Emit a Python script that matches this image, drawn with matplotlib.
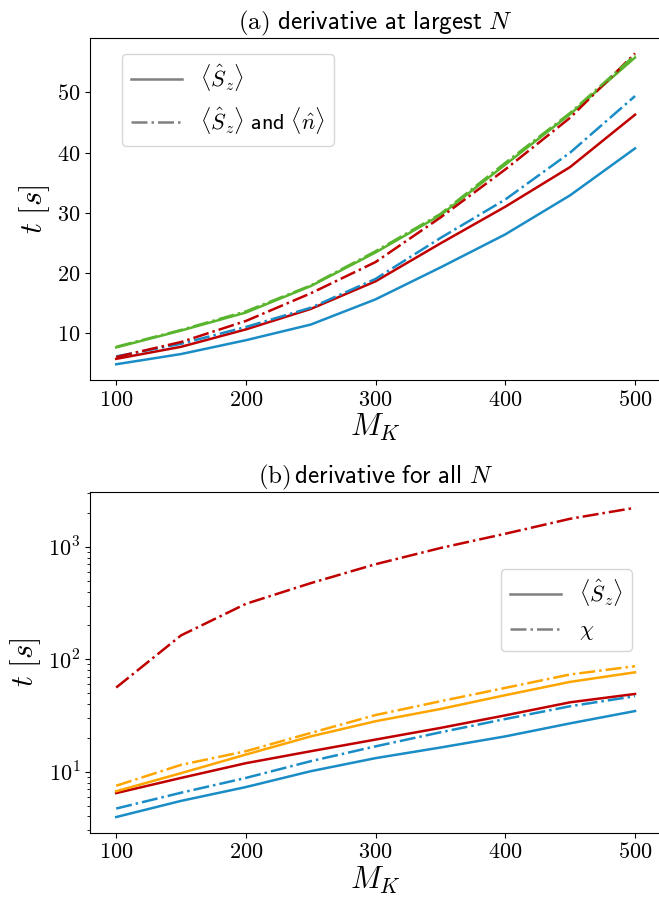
import numpy as np
import matplotlib
matplotlib.use("Agg")
import matplotlib.pyplot as plt
from matplotlib.lines import Line2D

plt.rcParams['mathtext.fontset'] = 'cm'

M_K = [100, 150, 200, 250, 300, 350, 400, 450, 500]

# (a) derivative at largest N
a_blue_sz = [4.8, 6.5, 8.8, 11.4, 15.6, 20.9, 26.4, 32.9, 40.7]
a_red_sz = [5.7, 7.7, 10.6, 14.0, 18.6, 24.9, 31.0, 37.6, 46.3]
a_green_sz = [7.6, 10.4, 13.4, 17.8, 23.4, 29.6, 38.0, 46.4, 55.8]
a_blue_szn = [6.1, 8.2, 11.0, 14.2, 19.0, 25.8, 32.2, 40.0, 49.4]
a_red_szn = [6.0, 8.5, 12.0, 16.6, 21.8, 29.2, 37.2, 45.8, 56.5]
a_green_szn = [7.7, 10.5, 13.6, 17.9, 23.6, 29.8, 38.3, 46.6, 56.2]

# (b) derivative for all N
b_blue_sz = [3.95, 5.5, 7.3, 10.1, 13.2, 16.4, 20.6, 26.9, 34.6]
b_red_sz = [6.45, 8.8, 11.9, 15.2, 19.3, 24.5, 31.7, 41.4, 49.1]
b_orange_sz = [6.7, 9.7, 14.2, 20.6, 28.1, 36.1, 47.9, 62.9, 76.5]
b_blue_chi = [4.7, 6.5, 8.8, 12.4, 16.8, 22.4, 29.4, 38.2, 46.9]
b_orange_chi = [7.5, 11.5, 15.2, 22.1, 31.9, 42.3, 55.6, 73.2, 86.7]
b_red_chi = [56, 163, 311, 475, 700, 975, 1306, 1775, 2223]

blue = '#1a8cc6'
red = '#c00000'
green = '#5ab52e'
orange = '#ffa500'
lw = 1.8

fig = plt.figure(figsize=(6.59, 9), dpi=100)
ax1 = fig.add_axes([0.137, 0.578, 0.866, 0.380])
ax2 = fig.add_axes([0.137, 0.075, 0.866, 0.378])

ax1.plot(M_K, a_blue_sz, color=blue, lw=lw)
ax1.plot(M_K, a_red_sz, color=red, lw=lw)
ax1.plot(M_K, a_green_sz, color=green, lw=lw)
ax1.plot(M_K, a_blue_szn, color=blue, lw=lw, ls='-.')
ax1.plot(M_K, a_red_szn, color=red, lw=lw, ls='-.')
ax1.plot(M_K, a_green_szn, color=green, lw=lw, ls='-.')

ax2.plot(M_K, b_blue_sz, color=blue, lw=lw)
ax2.plot(M_K, b_red_sz, color=red, lw=lw)
ax2.plot(M_K, b_orange_sz, color=orange, lw=lw)
ax2.plot(M_K, b_blue_chi, color=blue, lw=lw, ls='-.')
ax2.plot(M_K, b_orange_chi, color=orange, lw=lw, ls='-.')
ax2.plot(M_K, b_red_chi, color=red, lw=lw, ls='-.')
ax2.set_yscale('log')

xt = [100, 200, 300, 400, 500]
for ax in (ax1, ax2):
    ax.set_xticks(xt, [f'${v}$' for v in xt])
    ax.tick_params(labelsize=16)
    ax.set_xlabel('$M_K$', fontsize=22, labelpad=2)
    ax.set_ylabel(r'$t\ [s]$', fontsize=22)

yt = [10, 20, 30, 40, 50]
ax1.set_yticks(yt, [f'${v}$' for v in yt])
ax2.set_yticks([10, 100, 1000], ['$10^1$', '$10^2$', '$10^3$'])

ax1.set_title(r'$\mathrm{(a)}\ \mathsf{derivative\ at\ largest}\ N$', fontsize=18, pad=5)
ax2.set_title(r'$\mathrm{(b)}\,\mathsf{derivative\ for\ all}\ N$', fontsize=18, pad=5)

h1 = [Line2D([], [], color='gray', lw=lw), Line2D([], [], color='gray', lw=lw, ls='-.')]
ax1.legend(h1, [r'$\langle\hat{S}_z\rangle$', r'$\langle\hat{S}_z\rangle\ \mathsf{and}\ \langle\hat{n}\rangle$'],
           loc='upper left', bbox_to_anchor=(0.036, 0.985), fontsize=16, handlelength=2.3)
ax2.legend(h1, [r'$\langle\hat{S}_z\rangle$', r'$\chi$'],
           loc='upper right', bbox_to_anchor=(0.968, 0.807), fontsize=16, handlelength=2.3)

fig.savefig('out.png', dpi=100)
